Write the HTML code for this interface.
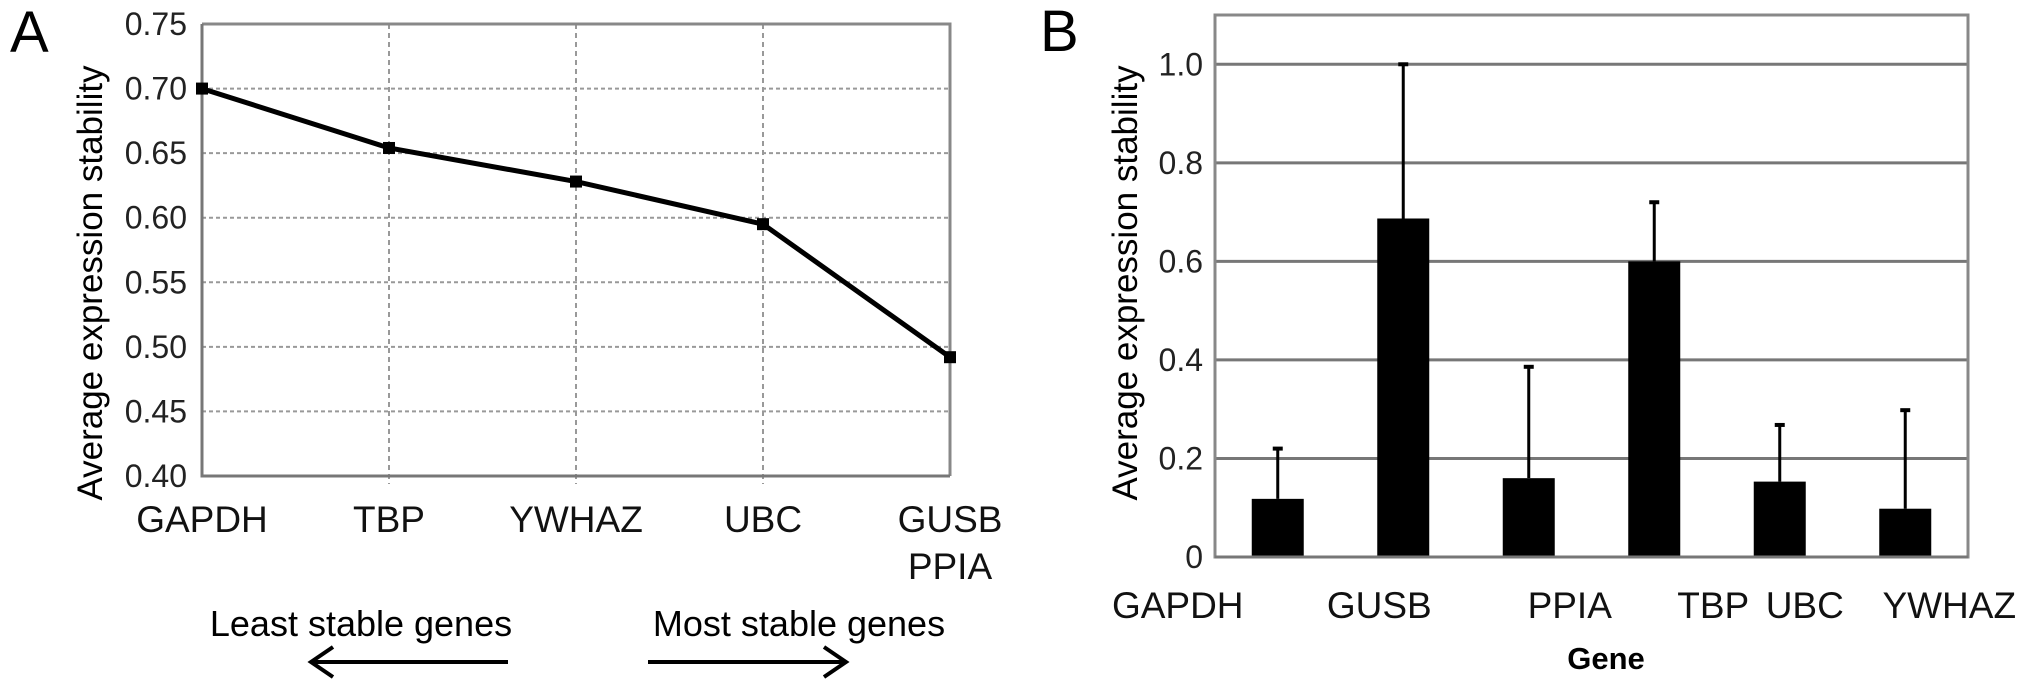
<!DOCTYPE html>
<html><head><meta charset="utf-8"><style>
html,body{margin:0;padding:0;background:#fff;}
svg{display:block;font-family:"Liberation Sans",Arial,sans-serif;}
</style></head><body>
<svg id="fig" width="2031" height="691" viewBox="0 0 2031 691" xmlns="http://www.w3.org/2000/svg">
<g id="panelA"></g>
<g id="panelB"></g>
</svg>
<script>
// Panel A data
const aCategories = ["GAPDH", "TBP", "YWHAZ", "UBC", "GUSB|PPIA"];
const aValues = [0.70, 0.654, 0.628, 0.595, 0.492];
const aTicks = [0.40, 0.45, 0.50, 0.55, 0.60, 0.65, 0.70, 0.75];
const aTickLabels = ["0.40", "0.45", "0.50", "0.55", "0.60", "0.65", "0.70", "0.75"];
// Panel B data
const bCategories = ["GAPDH", "GUSB", "PPIA", "TBP", "UBC", "YWHAZ"];
const bValues = [0.118, 0.687, 0.16, 0.60, 0.153, 0.098];
const bErrors = [0.102, 0.313, 0.226, 0.12, 0.115, 0.200];
const bTicks = [0, 0.2, 0.4, 0.6, 0.8, 1.0];
const bTickLabels = ["0", "0.2", "0.4", "0.6", "0.8", "1.0"];

const NS = "http://www.w3.org/2000/svg";
function mk(parent, tag, attrs, text) {
  const e = document.createElementNS(NS, tag);
  for (const k in attrs) e.setAttribute(k, attrs[k]);
  if (text !== undefined) e.textContent = text;
  parent.appendChild(e);
  return e;
}

// ---------- Panel A ----------
const A = document.getElementById("panelA");
const aL = 202, aR = 950, aT = 24, aB = 476, aMin = 0.40, aMax = 0.75;
const ax = i => aL + i * (aR - aL) / (aCategories.length - 1);
const ay = v => aB - (v - aMin) / (aMax - aMin) * (aB - aT);

let t = mk(A, "text", {x: 10, y: 52, "font-size": 58}, "A");



aTicks.forEach((v, i) => {
  if (v > aMin && v < aMax) {
    const g = mk(A, "line", {x1: aL, x2: aR, y1: ay(v), y2: ay(v), stroke: "#999", "stroke-width": 2, "stroke-dasharray": "4,3"});
    
    
  }
  const l = mk(A, "text", {x: 187, y: ay(v) + 11, "font-size": 32, "text-anchor": "end", fill: "#222"}, aTickLabels[i]);
  
  
});
aCategories.forEach((c, i) => {
  if (i > 0 && i < aCategories.length - 1) {
    const g = mk(A, "line", {x1: ax(i), x2: ax(i), y1: aT, y2: aB + 8, stroke: "#999", "stroke-width": 2, "stroke-dasharray": "5,4"});
    
    
  }
  const parts = c.split("|");
  parts.forEach((p, j) => {
    const l = mk(A, "text", {x: ax(i), y: 532 + j * 47, "font-size": 37, "text-anchor": "middle", fill: "#111"}, p);
    
    
  });
});
let fr = mk(A, "path", {d: `M${aL},${aT} H${aR} V${aB}`, fill: "none", stroke: "#888", "stroke-width": 3});


let axl = mk(A, "path", {d: `M${aL},${aT} V${aB} H${aR}`, fill: "none", stroke: "#777", "stroke-width": 3});



let pts = aValues.map((v, i) => ax(i) + "," + ay(v)).join(" ");
let ln = mk(A, "polyline", {points: pts, fill: "none", stroke: "#000", "stroke-width": 5});


aValues.forEach((v, i) => {
  const m = mk(A, "rect", {x: ax(i) - 6, y: ay(v) - 6, width: 12, height: 12, fill: "#000"});
  
  
});
let yt = mk(A, "text", {x: 0, y: 0, "font-size": 35, "text-anchor": "middle", transform: "translate(102,283) rotate(-90)"}, "Average expression stability");



let ls = mk(A, "text", {x: 361, y: 636, "font-size": 36, "text-anchor": "middle"}, "Least stable genes");


let ms = mk(A, "text", {x: 799, y: 636, "font-size": 36, "text-anchor": "middle"}, "Most stable genes");


let la = mk(A, "path", {d: "M508,662 H311 M333,647 L311,662 L333,677", fill: "none", stroke: "#000", "stroke-width": 4});


let ra = mk(A, "path", {d: "M648,662 H846 M824,647 L846,662 L824,677", fill: "none", stroke: "#000", "stroke-width": 4});



// ---------- Panel B ----------
const B = document.getElementById("panelB");
const bL = 1215, bR = 1968, bT = 15, bB = 557, bMax = 1.1;
const bw = (bR - bL) / bCategories.length;
const bx = i => bL + bw * (i + 0.5);
const by = v => bB - v / bMax * (bB - bT);
const bLabelDx = [-100, -24, 41, 59, 25, 44];

let tb = mk(B, "text", {x: 1040, y: 51, "font-size": 58}, "B");



bTicks.forEach((v, i) => {
  if (v > 0) {
    const g = mk(B, "line", {x1: bL, x2: bR, y1: by(v), y2: by(v), stroke: "#777", "stroke-width": 3});
    
    
  }
  const l = mk(B, "text", {x: 1203, y: by(v) + 11, "font-size": 32, "text-anchor": "end", fill: "#222"}, bTickLabels[i]);
  
  
});
let bf = mk(B, "rect", {x: bL, y: bT, width: bR - bL, height: bB - bT, fill: "none", stroke: "#888", "stroke-width": 3});



bValues.forEach((v, i) => {
  const top = by(v + bErrors[i]);
  const e = mk(B, "line", {x1: bx(i), x2: bx(i), y1: top, y2: by(v), stroke: "#000", "stroke-width": 3});
  
  
  const cap = mk(B, "line", {x1: bx(i) - 5, x2: bx(i) + 5, y1: top, y2: top, stroke: "#000", "stroke-width": 4});
  
  
  const r = mk(B, "rect", {x: bx(i) - 26, y: by(v), width: 52, height: bB - by(v), fill: "#000"});
  
  
  const l = mk(B, "text", {x: bx(i) + bLabelDx[i], y: 618, "font-size": 37, "text-anchor": "middle", fill: "#111"}, bCategories[i]);
  
  
});
let bax = mk(B, "line", {x1: bL, x2: bR, y1: bB, y2: bB, stroke: "#777", "stroke-width": 3});



let byt = mk(B, "text", {x: 0, y: 0, "font-size": 35, "text-anchor": "middle", transform: "translate(1137,283) rotate(-90)"}, "Average expression stability");


let bxt = mk(B, "text", {x: 1606, y: 669, "font-size": 31, "font-weight": "bold", "text-anchor": "middle"}, "Gene");


</script>
</body></html>
